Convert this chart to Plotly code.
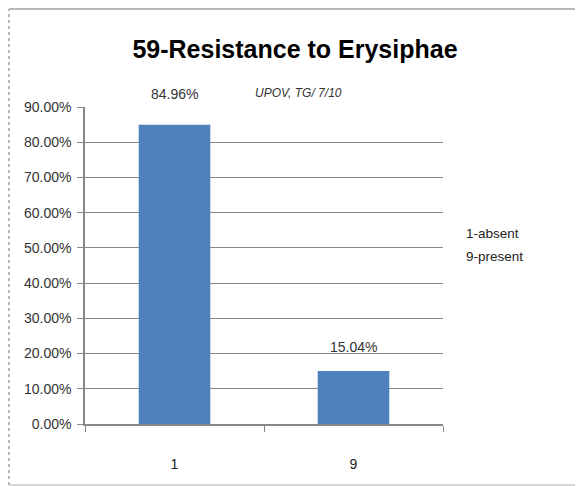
import plotly.graph_objects as go

categories = ["1", "9"]
shares = [84.96, 15.04]
labels = ["84.96%", "15.04%"]
y_ticks = [0, 10, 20, 30, 40, 50, 60, 70, 80, 90]
notes = ["1-absent", "9-present"]

font = "Liberation Sans, Arial, sans-serif"
W, H = 583, 486
OFF = 8  # page body margin, the figure sits 8px in from the window corner
# target screen edges of the plot area: left 85, right 443, top 107, bottom 424
L, R, T, B = 85 - OFF, W - (443 - OFF), 107 - OFF, H - (424 - OFF)
pw, ph = W - L - R, H - T - B


def px(x):
    return (x - OFF - L) / pw


def py(y):
    return (H - B - (y - OFF)) / ph


fig = go.Figure()
fig.add_trace(go.Bar(x=categories, y=shares, width=0.4, marker_color="#4F81BD",
                     marker_line_width=0, showlegend=False))

label_shift = [31, 24]
for i, (v, t) in enumerate(zip(shares, labels)):
    fig.add_annotation(x=i, y=v, text=t, showarrow=False, yshift=label_shift[i],
                       font=dict(size=14, color="#333333", family=font))

fig.add_annotation(xref="paper", yref="paper", x=px(298), y=py(84), text="<i>UPOV, TG/ 7/10</i>",
                   showarrow=False, font=dict(size=12, color="#333333", family=font))
for i, n in enumerate(notes):
    fig.add_annotation(xref="paper", yref="paper", x=px(464), y=py(233 + 24 * i), text=n,
                       xanchor="left", showarrow=False, font=dict(size=13.5, color="#222222", family=font))

# outer chart frame: left (dotted), top and bottom edges; right edge is off-picture
frame = dict(type="line", xref="paper", yref="paper")
fig.add_shape(**frame, x0=px(9), x1=px(9), y0=py(485), y1=py(9),
              line=dict(color="#A0A0A0", width=1.5, dash="dot"))
fig.add_shape(**frame, x0=px(9), x1=px(600), y0=py(9), y1=py(9),
              line=dict(color="#A0A0A0", width=1.5))
fig.add_shape(**frame, x0=px(9), x1=px(600), y0=py(485), y1=py(485),
              line=dict(color="#C8C8C8", width=1.5))

fig.update_layout(
    width=W, height=H,
    margin=dict(l=L, r=R, t=T, b=B),
    paper_bgcolor="white", plot_bgcolor="white",
    title=dict(text="<b>59-Resistance to Erysiphae</b>", xref="container", x=(295 - OFF) / W,
               xanchor="center", yref="container", y=1 - (49 - OFF) / H, yanchor="middle",
               font=dict(size=25, color="black", family=font)),
)
fig.update_xaxes(type="category", range=[-0.5, 1.5], tickson="boundaries", ticks="outside", ticklen=6,
                 tickcolor="#888888", showline=True, linecolor="#888888", linewidth=1.5,
                 ticklabelstandoff=26,
                 showgrid=False, tickfont=dict(size=14, color="#222222", family=font))
fig.update_yaxes(range=[0, 90], tickvals=y_ticks, ticktext=[f"{v:.2f}%" for v in y_ticks],
                 ticks="outside", ticklen=6, tickcolor="#888888", showline=True,
                 linecolor="#888888", linewidth=1.5, gridcolor="#888888", gridwidth=1,
                 ticklabelstandoff=3,
                 zeroline=False, tickfont=dict(size=14, color="#333333", family=font))

fig.write_html("out.html")
